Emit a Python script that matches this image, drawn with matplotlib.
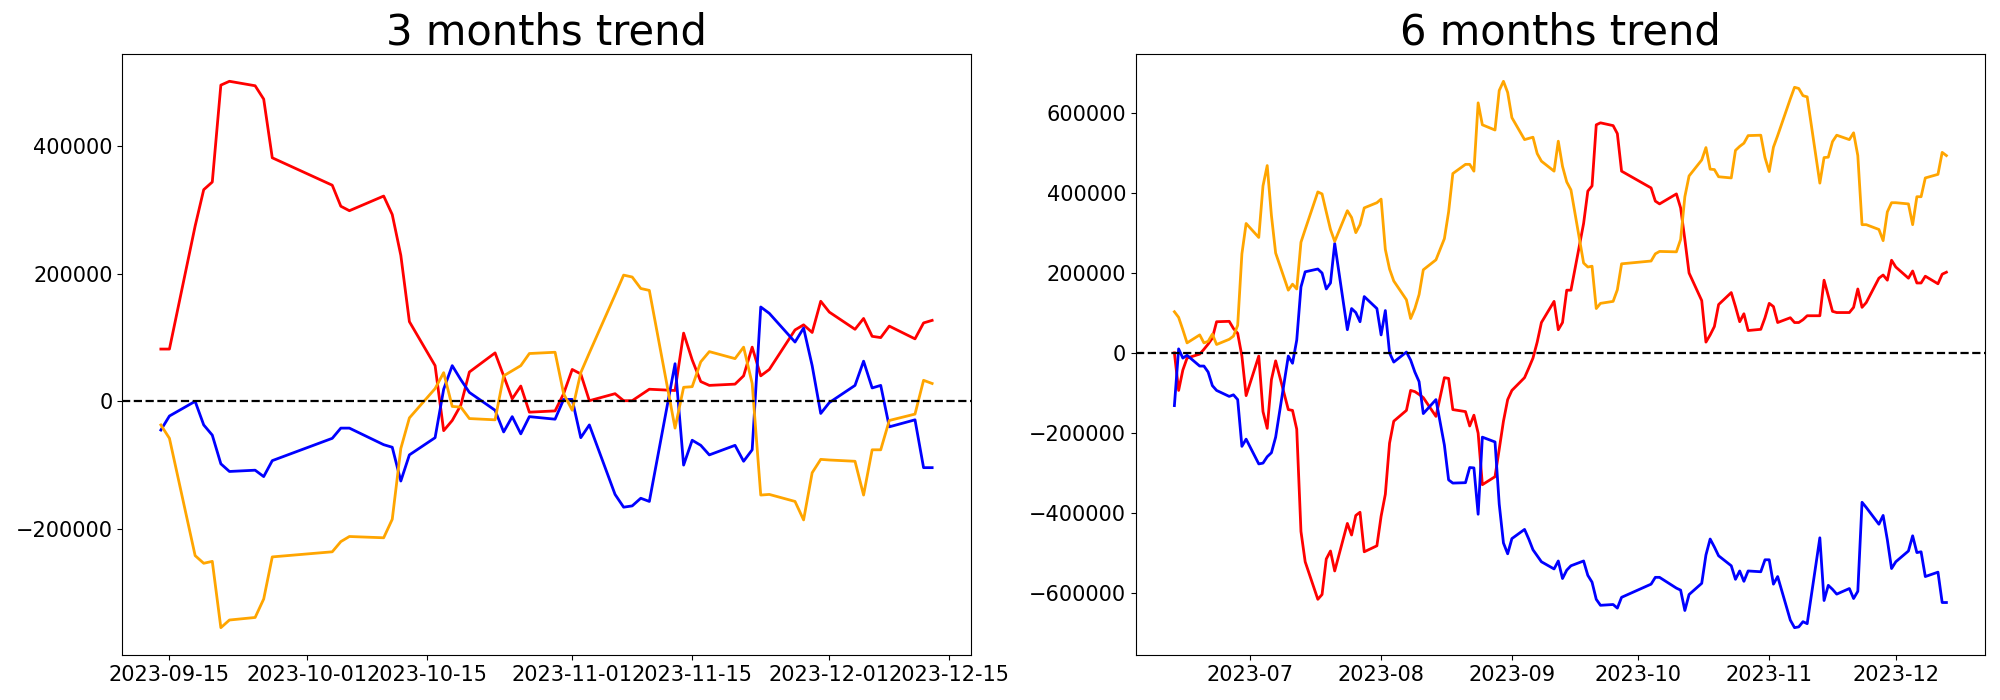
import matplotlib
matplotlib.use("Agg")
import matplotlib.pyplot as plt
import pandas as pd

# ---------------- 3 months data (values in thousands) ----------------
L_DAYS = {
    "2023-09": [14, 15, 18, 19, 20, 21, 22, 25, 26, 27],
    "2023-10": [4, 5, 6, 10, 11, 12, 13, 16, 17, 18, 19, 20, 23, 24, 25, 26, 27, 30, 31],
    "2023-11": [1, 2, 3, 6, 7, 8, 9, 10, 13, 14, 15, 16, 17, 20, 21, 22, 23, 24, 27, 28, 29, 30],
    "2023-12": [1, 4, 5, 6, 7, 8, 11, 12, 13],
}
L_RED = [82, 82, 275, 332, 344, 496, 502, 495, 474, 382,
         339, 306, 299, 322, 293, 229, 125, 56, -46, -30, -6, 46, 76, 40, 4, 24, -17, -15, 12,
         50, 43, 1, 12, 1, 1, 10, 19, 17, 107, 65, 31, 25, 27, 40, 85, 40, 50, 112, 120, 108, 157,
         140, 113, 130, 102, 100, 118, 98, 123, 127]
L_BLUE = [-45, -23, 0, -37, -53, -98, -110, -108, -118, -93,
          -58, -42, -42, -68, -72, -125, -84, -57, 19, 56, 34, 14, -14, -48, -24, -51, -24, -28, 3,
          3, -57, -37, -146, -166, -164, -152, -157, 59, -100, -61, -69, -84, -69, -94, -76, 148, 138, 93, 115, 56, -19,
          -2, 25, 63, 21, 25, -40, -29, -104, -104]
L_ORANGE = [-37, -58, -242, -254, -251, -355, -343, -339, -310, -244,
            -236, -220, -212, -214, -185, -74, -26, 20, 45, -8, -9, -27, -29, 40, 48, 56, 75, 77, 12,
            -14, 45, 76, 167, 198, 195, 177, 174, -42, 22, 23, 62, 78, 67, 85, 28, -147, -146, -157, -186, -112, -91,
            -92, -94, -147, -76, -76, -30, -20, 33, 28]

# ---------------- 6 months data (values in thousands) ----------------
R_DAYS = {
    "2023-06": [13, 14, 15, 16, 19, 20, 21, 22, 23, 26, 27, 28, 29, 30],
    "2023-07": [3, 4, 5, 6, 7, 10, 11, 12, 13, 14, 17, 18, 19, 20, 21, 24, 25, 26, 27, 28, 31],
    "2023-08": [1, 2, 3, 4, 7, 8, 9, 10, 11, 14, 16, 17, 18, 21, 22, 23, 24, 25, 28, 29, 30, 31],
    "2023-09": [1, 4, 5, 6, 7, 8, 11, 12, 13, 14, 15, 18, 19, 20, 21, 22, 25, 26, 27],
    "2023-10": [4, 5, 6, 10, 11, 12, 13, 16, 17, 18, 19, 20, 23, 24, 25, 26, 27, 30, 31],
    "2023-11": [1, 2, 3, 6, 7, 8, 9, 10, 13, 14, 15, 16, 17, 20, 21, 22, 23, 24, 27, 28, 29, 30],
    "2023-12": [1, 4, 5, 6, 7, 8, 11, 12, 13],
}
R_RED = [0, -94, -43, -13, -3, 9, 22, 37, 78, 79, 61, 49, -8, -107,
         -8, -147, -189, -67, -20, -142, -144, -191, -447, -523, -617, -605, -516, -496, -546, -427, -456, -407, -399, -498, -483,
         -409, -354, -226, -171, -144, -94, -97, -104, -112, -159, -62, -64, -142, -147, -183, -156, -201, -330, -310, -241, -171, -117,
         -94, -62, -38, -13, 27, 76, 129, 58, 76, 157, 157, 324, 405, 418, 571, 576, 569, 549, 455,
         413, 380, 373, 398, 363, 284, 200, 131, 27, 45, 66, 121, 151, 116, 78, 98, 56, 59, 88,
         124, 116, 76, 88, 76, 76, 83, 93, 93, 182, 143, 104, 101, 101, 114, 160, 114, 126, 187, 195, 182, 232,
         215, 187, 205, 175, 175, 192, 173, 197, 202]
R_BLUE = [-132, 10, -13, -6, -33, -33, -48, -82, -94, -109, -105, -117, -234, -216,
          -278, -276, -260, -250, -211, -8, -26, 32, 165, 203, 210, 200, 160, 175, 274, 58, 111, 101, 78, 141, 111,
          45, 106, 0, -23, 2, -18, -48, -72, -152, -117, -231, -318, -326, -325, -287, -288, -404, -211, -223, -379, -476, -503,
          -465, -442, -466, -493, -508, -523, -541, -521, -565, -544, -533, -521, -557, -574, -617, -632, -630, -639, -612,
          -579, -562, -562, -589, -594, -645, -605, -577, -506, -466, -486, -508, -533, -567, -546, -572, -546, -548, -518,
          -518, -579, -560, -669, -688, -686, -673, -678, -463, -620, -582, -592, -604, -590, -615, -597, -374, -387, -429, -407, -468, -540,
          -523, -496, -458, -500, -498, -560, -549, -625, -625]
R_ORANGE = [103, 89, 58, 25, 45, 25, 29, 47, 21, 34, 42, 69, 248, 324,
            289, 418, 469, 344, 250, 157, 172, 160, 277, 309, 403, 398, 353, 309, 279, 356, 339, 301, 321, 363, 376,
            385, 259, 210, 180, 133, 86, 111, 146, 208, 233, 286, 353, 449, 472, 472, 455, 626, 571, 558, 657, 680, 652,
            589, 534, 537, 540, 499, 480, 455, 530, 467, 428, 408, 225, 215, 217, 111, 124, 129, 158, 223,
            230, 248, 254, 253, 284, 391, 443, 483, 514, 460, 459, 441, 438, 507, 517, 525, 544, 545, 489,
            454, 515, 544, 636, 665, 662, 644, 641, 425, 489, 490, 529, 545, 534, 551, 494, 321, 321, 309, 281, 353, 376,
            376, 373, 321, 391, 391, 438, 447, 502, 494]

TITLES = ["3 months trend", "6 months trend"]
COLORS = ["red", "blue", "orange"]


def to_dates(days):
    out = []
    for ym, ds in days.items():
        for d in ds:
            out.append(pd.Timestamp(f"{ym}-{d:02d}"))
    return out


def scale(vals):
    return [v * 1000 for v in vals]


fig = plt.figure(figsize=(20, 7), dpi=100)
ax_l = fig.add_axes([0.06115, 0.0643, 0.4242, 0.8586])
ax_r = fig.add_axes([0.5679, 0.0643, 0.4246, 0.8586])

panels = [
    (ax_l, to_dates(L_DAYS), [L_RED, L_BLUE, L_ORANGE], TITLES[0]),
    (ax_r, to_dates(R_DAYS), [R_RED, R_BLUE, R_ORANGE], TITLES[1]),
]

for ax, dates, series, title in panels:
    for vals, c in zip(series, COLORS):
        ax.plot(dates, scale(vals), color=c, linewidth=2)
    ax.axhline(0, color="black", linestyle="--", linewidth=1.6)
    ax.set_title(title, fontsize=30)
    ax.tick_params(axis="both", labelsize=15)

fig.savefig("out.png", dpi=100)
